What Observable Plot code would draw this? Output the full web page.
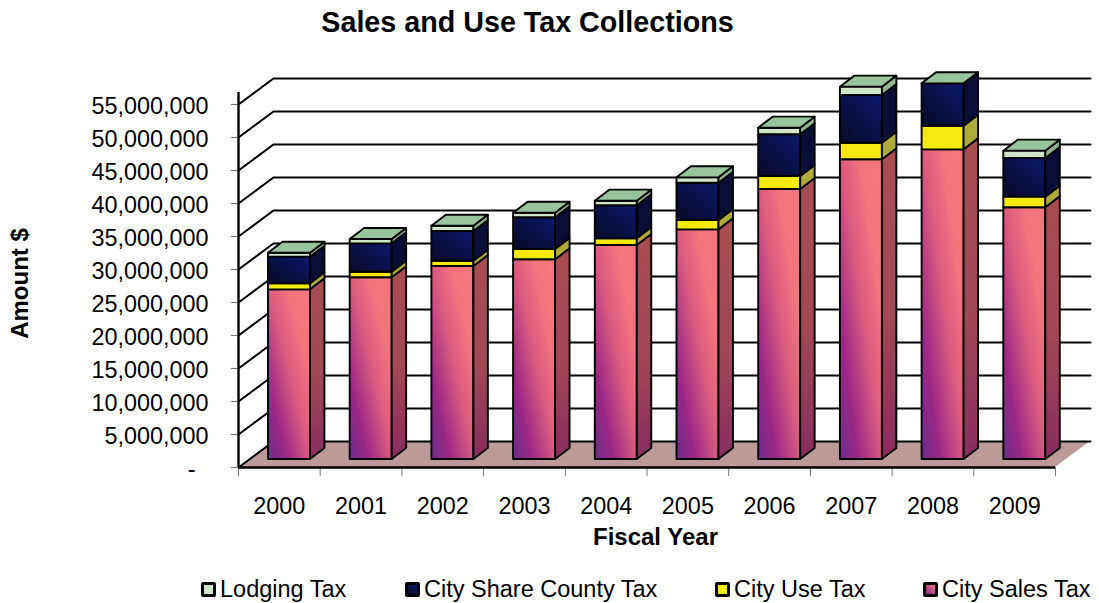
<!DOCTYPE html>
<html>
<head>
<meta charset="utf-8">
<script src="https://cdn.jsdelivr.net/npm/d3@7"></script>
<script src="https://cdn.jsdelivr.net/npm/@observablehq/plot@0.6"></script>
<style>
  html, body { margin: 0; padding: 0; background: #fff; }
  #page { position: relative; width: 1099px; height: 603px; overflow: hidden; font-family: "Liberation Sans", Arial, sans-serif; color: #000; }
  #title { position: absolute; left: 0; top: 5px; width: 1055px; text-align: center; font-size: 28.7px; font-weight: bold; line-height: 34px; }
  #chart { position: absolute; left: 0; top: 44px; }
  #chart svg { display: block; }
  .key { position: absolute; top: 574px; font-size: 23.5px; line-height: 30px; white-space: nowrap; }
  .key i { position: absolute; left: 0; top: 8px; width: 9px; height: 9px; border: 3px solid #000; border-radius: 2px; }
  .key span { position: absolute; left: 19px; top: 0; }
</style>
</head>
<body>
<div id="page">
  <div id="title">Sales and Use Tax Collections</div>
  <div id="chart"></div>
</div>
<script>
// Fiscal years and annual collections in dollars for each tax
const years = [2000, 2001, 2002, 2003, 2004, 2005, 2006, 2007, 2008, 2009];
const citySalesTax = [25710000, 27530000, 29240000, 30260000, 32420000, 34800000, 40910000, 45410000, 46920000, 38140000];
const cityUseTax = [910000, 850000, 800000, 1560000, 1020000, 1410000, 1970000, 2520000, 3580000, 1610000];
const cityShareCountyTax = [4030000, 4300000, 4500000, 4800000, 5000000, 5650000, 6320000, 7230000, 6420000, 5860000];
const lodgingTax = [610000, 650000, 800000, 700000, 700000, 820000, 1000000, 1260000, 0, 1110000];
const yTicks = [0, 5e6, 10e6, 15e6, 20e6, 25e6, 30e6, 35e6, 40e6, 45e6, 50e6, 55e6];

// Oblique projection constants, in data units
const wallDepthX = 0.428, wallDepthY = 3.94e6;    // front of the floor to the back wall
const barLeft = 0.367, barWidth = 0.514;          // bar front face within its category slot
const barLift = 1.21e6;                           // bars sit part way back on the floor
const barDepthX = 0.177, barDepthY = 1.67e6;      // depth of each bar
const axisTop = 56.8e6;

const series = [
  {name: "sales", values: citySalesTax, front: "url(#salesFront)", side: "url(#salesSide)"},
  {name: "use", values: cityUseTax, front: "#f4ea10", side: "#b0ab38"},
  {name: "county", values: cityShareCountyTax, front: "url(#countyFront)", side: "#0a0e36"},
  {name: "lodging", values: lodgingTax, front: "#cfe7c8", side: "#8fb88f"}
];

// Stack the series into boxes, one per year and tax
const boxes = [];
years.forEach((year, i) => {
  let base = 0;
  for (const s of series) {
    const value = s.values[i];
    if (value > 0) boxes.push({name: s.name, year, x1: i + barLeft, x2: i + barLeft + barWidth, base: base + barLift, top: base + value + barLift});
    base += value;
  }
});
const boxesOf = (name) => boxes.filter((b) => b.name === name);

// Each side face is two points of an area band that runs back into the chart
const sideFace = (rows) => rows.flatMap((b) => [
  {id: b.year, x1: b.x2, y1: b.top, x2: b.x2, y2: b.base},
  {id: b.year, x1: b.x2 + barDepthX, y1: b.top + barDepthY, x2: b.x2 + barDepthX, y2: b.base + barDepthY}
]);
const topFace = years.flatMap((year, i) => {
  const total = citySalesTax[i] + cityUseTax[i] + cityShareCountyTax[i] + lodgingTax[i] + barLift;
  const xl = i + barLeft, xr = xl + barWidth;
  return [
    {id: year, x1: xl, y1: total, x2: xr, y2: total},
    {id: year, x1: xl + barDepthX, y1: total + barDepthY, x2: xr + barDepthX, y2: total + barDepthY}
  ];
});
const floor = [
  {x1: 0, y1: 0, x2: years.length, y2: 0},
  {x1: wallDepthX, y1: wallDepthY, x2: years.length + wallDepthX, y2: wallDepthY}
];
const gridLines = yTicks.flatMap((v) => [
  {v, x: 0, y: v},
  {v, x: wallDepthX, y: v + wallDepthY},
  {v, x: years.length + wallDepthX, y: v + wallDepthY}
]);

const gradients = () => {
  const defs = d3.create("svg:defs");
  const add = (id, x1, y1, x2, y2, stops) => {
    const g = defs.append("linearGradient").attr("id", id)
      .attr("x1", x1).attr("y1", y1).attr("x2", x2).attr("y2", y2);
    for (const [offset, color] of stops) g.append("stop").attr("offset", offset).attr("stop-color", color);
  };
  add("salesFront", 0, 1, 1, 0, [[0, "#6c2e8c"], [0.22, "#9a2786"], [0.52, "#dc5c80"], [0.75, "#f4747e"], [1, "#f5767e"]]);
  add("salesSide", 0, 1, 0, 0, [[0, "#882c5e"], [0.45, "#a14757"], [1, "#a84e50"]]);
  add("countyFront", 0, 1, 1, 0, [[0, "#0a0a24"], [0.45, "#0a0f45"], [1, "#0b1a6e"]]);
  return defs.node();
};

const ink = {stroke: "#000", strokeWidth: 1.9, strokeLinejoin: "round"};
const face = (rows, fill) => Plot.area(rows, {x1: "x1", y1: "y1", x2: "x2", y2: "y2", z: "id", fill, ...ink});

const marks = [
  gradients,
  Plot.area(floor, {x1: "x1", y1: "y1", x2: "x2", y2: "y2", fill: "#bd9a9a"}),
  Plot.line(gridLines, {x: "x", y: "y", z: "v", stroke: "#000", strokeWidth: 2})
];
for (const s of series) {
  const rows = boxesOf(s.name);
  marks.push(Plot.rect(rows, {x1: "x1", x2: "x2", y1: "base", y2: "top", fill: s.front, ...ink}));
  marks.push(face(sideFace(rows), s.side));
}
marks.push(
  face(topFace, "#97c49b"),
  Plot.axisY({ticks: yTicks, tickSize: 7, stroke: "#777", text: null, label: null}),
  Plot.axisY({
    ticks: yTicks, tickSize: 0, tickPadding: 30, dy: 1.5, fontSize: 23.4, label: null,
    tickFormat: (d) => d === 0 ? "-\u00a0\u00a0" : d3.format(",")(d)
  }),
  Plot.axisX({ticks: d3.range(years.length + 1), tickSize: 9, stroke: "#777", text: null, label: null}),
  Plot.axisX({
    ticks: years.map((_, i) => i + 0.5), tickSize: 0, tickPadding: 30, fontSize: 23.4, label: null,
    tickFormat: (d) => String(years[d - 0.5])
  }),
  Plot.ruleX([0], {y1: 0, y2: axisTop, stroke: "#000", strokeWidth: 2.4}),
  Plot.ruleY([0], {x1: 0, x2: years.length, stroke: "#000", strokeWidth: 2.4}),
  Plot.text(["Fiscal Year"], {frameAnchor: "bottom", dx: -9, dy: 77, fontSize: 24, fontWeight: "bold", fill: "#000"}),
  Plot.text(["Amount $"], {frameAnchor: "left", textAnchor: "middle", dx: -218, dy: 14, rotate: -90, fontSize: 24, fontWeight: "bold", fill: "#000"})
);

const chart = Plot.plot({
  width: 1099,
  height: 500,
  marginLeft: 238,
  marginRight: 9,
  marginTop: 27,
  marginBottom: 77,
  style: {fontFamily: "'Liberation Sans', Arial, sans-serif", background: "#fff", color: "#000", overflow: "visible"},
  x: {type: "linear", domain: [0, years.length + wallDepthX], axis: null},
  y: {domain: [0, 60e6], axis: null},
  marks
});
document.getElementById("chart").appendChild(chart);

// Legend row under the chart
const legendItems = [
  {label: "Lodging Tax", left: 201, swatch: "#cfe7c8"},
  {label: "City Share County Tax", left: 405, swatch: "linear-gradient(45deg,#0a0a24,#0b1a6e)"},
  {label: "City Use Tax", left: 715, swatch: "#f4ea10"},
  {label: "City Sales Tax", left: 923, swatch: "linear-gradient(45deg,#8a2a88,#f0707e)"}
];
const page = document.getElementById("page");
for (const item of legendItems) {
  const key = document.createElement("div");
  key.className = "key";
  key.style.left = item.left + "px";
  const box = document.createElement("i");
  box.style.background = item.swatch;
  const text = document.createElement("span");
  text.textContent = item.label;
  key.append(box, text);
  page.appendChild(key);
}
</script>
</body>
</html>
